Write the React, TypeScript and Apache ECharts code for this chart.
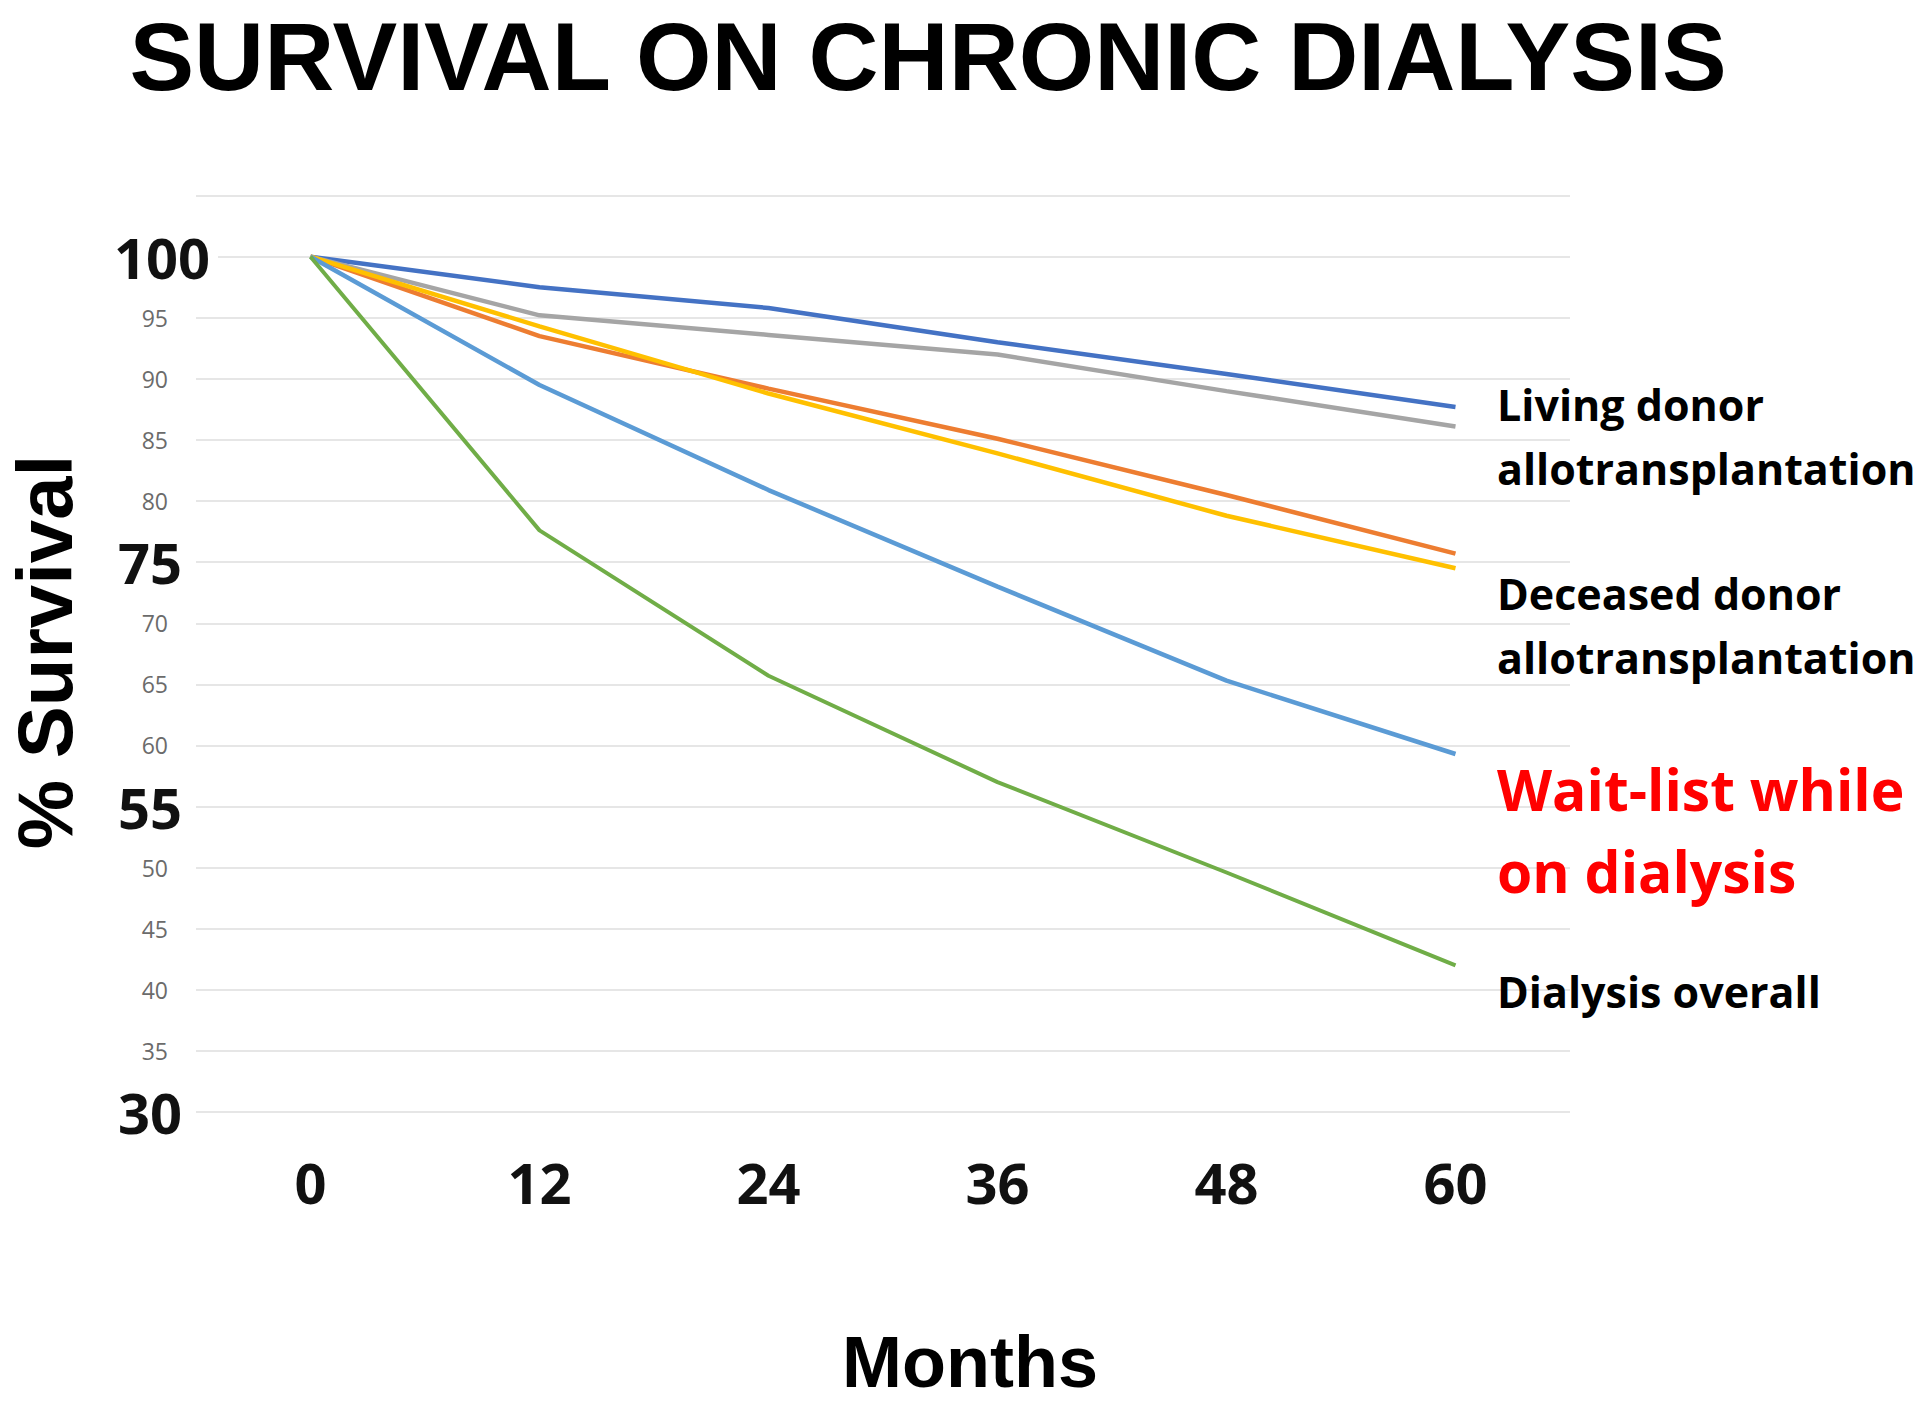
import React, { useEffect, useRef } from "react";
import * as echarts from "echarts";

const months = ["0", "12", "24", "36", "48", "60"];

const livingA = [100, 97.5, 95.8, 93.0, 90.4, 87.7];
const deceasedA = [100, 93.5, 89.2, 85.1, 80.5, 75.7];
const livingB = [100, 95.2, 93.6, 92.0, 89.0, 86.1];
const deceasedB = [100, 94.3, 88.8, 83.9, 78.8, 74.5];
const waitList = [100, 89.5, 80.9, 73.0, 65.3, 59.3];
const dialysisOverall = [100, 77.6, 65.7, 57.0, 49.6, 42.0];

const seriesNames = [
  "Living donor allotransplantation A",
  "Deceased donor allotransplantation A",
  "Living donor allotransplantation B",
  "Deceased donor allotransplantation B",
  "Wait-list while on dialysis",
  "Dialysis overall",
];
const seriesColors = ["#4472C4", "#ED7D31", "#A5A5A5", "#FFC000", "#5B9BD5", "#70AD47"];
const seriesData = [livingA, deceasedA, livingB, deceasedB, waitList, dialysisOverall];

const bigTicks = [100, 75, 55, 30];

const titleText = "SURVIVAL ON CHRONIC DIALYSIS";
const yName = "% Survival";
const xName = "Months";
const blackNotes = [
  { text: "Living donor", y: 404 },
  { text: "allotransplantation", y: 468 },
  { text: "Deceased donor", y: 593 },
  { text: "allotransplantation", y: 657 },
  { text: "Dialysis overall", y: 991 },
];
const redNotes = [
  { text: "Wait-list while", y: 789 },
  { text: "on dialysis", y: 871 },
];

const FONT = "'Open Sans', 'DejaVu Sans', sans-serif";
const FONT2 = "'Liberation Sans', Arial, sans-serif";

export default function App() {
  const ref = useRef<HTMLDivElement>(null);

  useEffect(() => {
    if (!ref.current) return;
    const chart = echarts.init(ref.current, null, { renderer: "svg" });

    const graphics: any[] = [
      {
        type: "text",
        x: 928,
        y: 56,
        z: 100,
        style: {
          text: titleText,
          font: `bold 97px ${FONT2}`,
          fill: "#000",
          textAlign: "center",
          textVerticalAlign: "middle",
        },
      },
      {
        type: "text",
        x: 45,
        y: 652,
        z: 100,
        rotation: Math.PI / 2,
        style: {
          text: yName,
          font: `bold 78px ${FONT2}`,
          fill: "#000",
          textAlign: "center",
          textVerticalAlign: "middle",
        },
      },
      {
        type: "text",
        x: 970,
        y: 1362,
        z: 100,
        style: {
          text: xName,
          font: `bold 72px ${FONT2}`,
          fill: "#000",
          textAlign: "center",
          textVerticalAlign: "middle",
        },
      },
      ...blackNotes.map((n) => ({
        type: "text",
        x: 1497,
        y: n.y,
        z: 100,
        style: {
          text: n.text,
          font: `bold 43px ${FONT}`,
          fill: "#000",
          textAlign: "left",
          textVerticalAlign: "middle",
        },
      })),
      ...redNotes.map((n) => ({
        type: "text",
        x: 1497,
        y: n.y,
        z: 100,
        style: {
          text: n.text,
          font: `bold 57px ${FONT}`,
          fill: "#FF0000",
          textAlign: "left",
          textVerticalAlign: "middle",
        },
      })),
    ];

    chart.setOption({
      animation: false,
      backgroundColor: "#ffffff",
      grid: { left: 196, right: 350, top: 195.6, bottom: 292, containLabel: false },
      xAxis: {
        type: "category",
        data: months,
        boundaryGap: true,
        axisLine: { show: false },
        axisTick: { show: false },
        splitLine: { show: false },
        axisLabel: {
          margin: 42,
          fontFamily: FONT,
          fontWeight: "bold",
          fontSize: 56,
          color: "#111",
        },
      },
      yAxis: {
        type: "value",
        min: 30,
        max: 105,
        interval: 5,
        axisLine: { show: false },
        axisTick: { show: false },
        splitLine: { show: true, lineStyle: { color: "#E6E6E6", width: 2 } },
        axisLabel: {
          margin: -22,
          fontFamily: FONT,
          formatter: (v: number) => {
            if (v === 105) return "";
            if (v === 100) return `{top|${v}}`;
            if (bigTicks.includes(v)) return `{big|${v}}`;
            return `{small|${v}}`;
          },
          rich: {
            top: {
              fontFamily: FONT,
              fontWeight: "bold",
              fontSize: 56,
              color: "#111",
              backgroundColor: "#ffffff",
              padding: [0, 8, 0, 0],
            },
            big: {
              fontFamily: FONT,
              fontWeight: "bold",
              fontSize: 56,
              color: "#111",
              padding: [0, 36, 0, 0],
            },
            small: {
              fontFamily: FONT,
              fontSize: 23,
              color: "#6b6b6b",
              padding: [0, 50, 0, 0],
            },
          },
        },
      },
      graphic: graphics,
      series: seriesData.map((d, i) => ({
        name: seriesNames[i],
        type: "line",
        data: d,
        symbol: "none",
        smooth: false,
        lineStyle: { color: seriesColors[i], width: i === 5 ? 4 : 4.5 },
        itemStyle: { color: seriesColors[i] },
        z: 2 + i,
      })),
    });

    return () => chart.dispose();
  }, []);

  return (
    <div
      ref={ref}
      style={{ position: "fixed", left: 0, top: 0, width: 1920, height: 1404, background: "#fff" }}
    />
  );
}
